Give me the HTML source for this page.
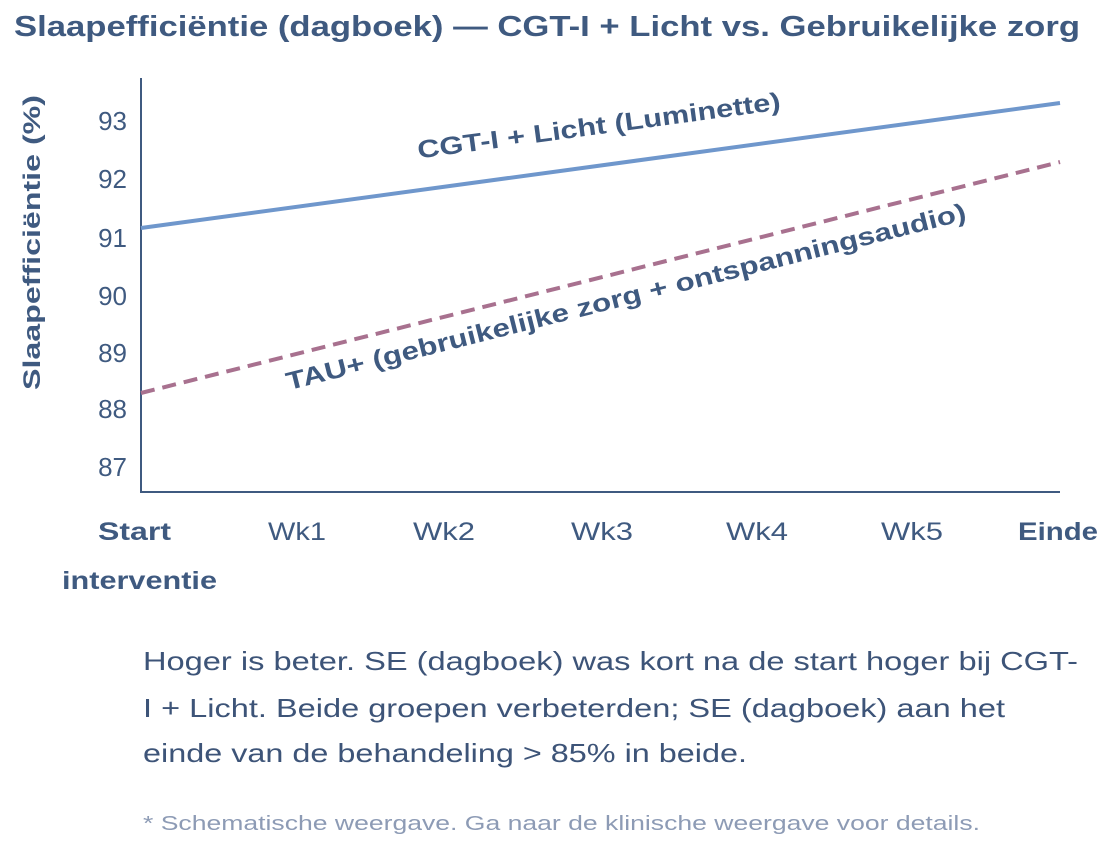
<!DOCTYPE html>
<html><head><meta charset="utf-8"><style>
body{margin:0;width:1104px;height:854px;background:#fff;overflow:hidden;font-family:"Liberation Sans",sans-serif}
</style></head><body>
<svg width="1104" height="854" xmlns="http://www.w3.org/2000/svg" style="position:absolute;left:0;top:0">
<text x="14" y="36" textLength="1066" lengthAdjust="spacingAndGlyphs" font-size="29" font-weight="bold" fill="#3f5a80">Slaapefficiëntie (dagboek) — CGT-I + Licht vs. Gebruikelijke zorg</text>
<line x1="141" y1="78" x2="141" y2="493" stroke="#3f5a80" stroke-width="2"/>
<line x1="140" y1="492" x2="1060" y2="492" stroke="#3f5a80" stroke-width="2"/>
<g font-size="26" fill="#3f5a80" text-anchor="end">
<text x="127" y="130">93</text><text x="127" y="188">92</text><text x="127" y="247">91</text>
<text x="127" y="305">90</text><text x="127" y="362">89</text><text x="127" y="418">88</text><text x="127" y="476">87</text>
</g>
<text transform="translate(40,390) rotate(-90)" textLength="295" lengthAdjust="spacingAndGlyphs" font-size="24" font-weight="bold" fill="#3f5a80">Slaapefficiëntie (%)</text>
<line x1="141" y1="228" x2="1060" y2="103" stroke="#6f97cc" stroke-width="4"/>
<line x1="141" y1="393" x2="1060" y2="162" stroke="#a8718f" stroke-width="4" stroke-dasharray="14,8"/>
<text transform="translate(600,134) rotate(-7.7)" text-anchor="middle" textLength="366" lengthAdjust="spacingAndGlyphs" font-size="25" font-weight="bold" fill="#3f5a80">CGT-I + Licht (Luminette)</text>
<text transform="translate(628,305) rotate(-14.1)" text-anchor="middle" textLength="700" lengthAdjust="spacingAndGlyphs" font-size="25" font-weight="bold" fill="#3f5a80">TAU+ (gebruikelijke zorg + ontspanningsaudio)</text>
<g font-size="25" fill="#3f5a80">
<text x="98" y="540" textLength="73" lengthAdjust="spacingAndGlyphs" font-weight="bold">Start</text>
<text x="62" y="589" textLength="155" lengthAdjust="spacingAndGlyphs" font-weight="bold">interventie</text>
<text x="268" y="540" textLength="58" lengthAdjust="spacingAndGlyphs">Wk1</text>
<text x="413" y="540" textLength="62" lengthAdjust="spacingAndGlyphs">Wk2</text>
<text x="571" y="540" textLength="62" lengthAdjust="spacingAndGlyphs">Wk3</text>
<text x="726" y="540" textLength="62" lengthAdjust="spacingAndGlyphs">Wk4</text>
<text x="881" y="540" textLength="62" lengthAdjust="spacingAndGlyphs">Wk5</text>
<text x="1018" y="540" textLength="80" lengthAdjust="spacingAndGlyphs" font-weight="bold">Einde</text>
</g>
<g font-size="26" fill="#3d5478">
<text x="143" y="670" textLength="935" lengthAdjust="spacingAndGlyphs">Hoger is beter. SE (dagboek) was kort na de start hoger bij CGT-</text>
<text x="143" y="717" textLength="862" lengthAdjust="spacingAndGlyphs">I + Licht. Beide groepen verbeterden; SE (dagboek) aan het</text>
<text x="143" y="762" textLength="604" lengthAdjust="spacingAndGlyphs">einde van de behandeling &gt; 85% in beide.</text>
</g>
<text x="143" y="830" textLength="837" lengthAdjust="spacingAndGlyphs" font-size="20" fill="#8d9bb5">* Schematische weergave. Ga naar de klinische weergave voor details.</text>
</svg>
</body></html>
